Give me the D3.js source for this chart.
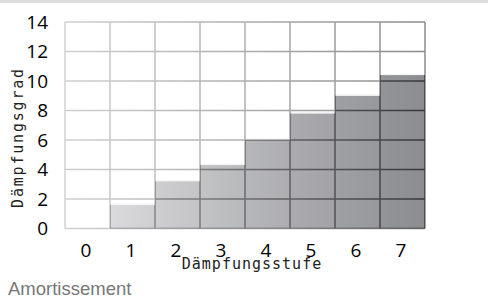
<!DOCTYPE html>
<html>
<head>
<meta charset="utf-8">
<script src="https://cdn.jsdelivr.net/npm/d3@7"></script>
<style>
  body { margin: 0; background: #fff; }
</style>
</head>
<body>
<svg id="chart" width="488" height="300"></svg>
<script>
// the data
const stufen = [0, 1, 2, 3, 4, 5, 6, 7];
const grad = [0, 1.6, 3.2, 4.3, 6.0, 7.8, 9.0, 10.4];
const yTicks = [0, 2, 4, 6, 8, 10, 12, 14];
const xTitle = "Dämpfungsstufe";
const yTitle = "Dämpfungsgrad";
const caption = "Amortissement";

let svg = d3.select("#chart"),
    width = +svg.attr("width"),
    height = +svg.attr("height");

// plot area
let pLeft = 65, pRight = 425, pTop = 22, pBottom = 228.5;

let x = d3.scaleBand().domain(stufen).range([pLeft, pRight]).padding(0);
let y = d3.scaleLinear().domain([0, 14]).range([pBottom, pTop]);

// farbe je stufe, hell -> dunkel
let shade = d3.scaleLinear().domain([1, 7]).range(["#d2d2d4", "#8e8f93"]);

// top strip of the page
svg.append("rect").attr("x", 0).attr("y", 0).attr("width", width).attr("height", 3).attr("fill", "#dcdcdc");

let defs = svg.append("defs");
function hGrad(id, c0, c1) {
    let g = defs.append("linearGradient").attr("id", id)
        .attr("gradientUnits", "userSpaceOnUse")
        .attr("x1", pLeft).attr("x2", pRight).attr("y1", 0).attr("y2", 0);
    g.append("stop").attr("offset", "0%").attr("stop-color", c0);
    g.append("stop").attr("offset", "100%").attr("stop-color", c1);
}
// grid lines: light in the white part, dark inside the bars
hGrad("gridGrad", "#d0d0d0", "#8a8a8a");
hGrad("gridDark", "#a4a4a6", "#38383a");

// per bar gradient
stufen.forEach(function (s) {
    let g = defs.append("linearGradient").attr("id", "bar" + s);
    let c = d3.color(shade(Math.max(s, 1)));
    g.append("stop").attr("offset", "0%").attr("stop-color", c.brighter(0.1));
    g.append("stop").attr("offset", "100%").attr("stop-color", c.darker(0.04));
});

let withBar = stufen.filter((s, i) => grad[i] > 0);

// clip path = bar shapes
let clip = defs.append("clipPath").attr("id", "barsClip");
clip.selectAll("rect")
    .data(withBar)
    .enter().append("rect")
    .attr("x", d => x(d))
    .attr("y", d => y(grad[d]))
    .attr("width", x.bandwidth())
    .attr("height", d => y(0) - y(grad[d]));

function drawGrid(g, color, w) {
    g.selectAll("line.h")
        .data(yTicks)
        .enter().append("line")
        .attr("x1", pLeft).attr("x2", pRight)
        .attr("y1", d => y(d)).attr("y2", d => y(d))
        .attr("stroke", color).attr("stroke-width", w);
    g.selectAll("line.v")
        .data(stufen.concat([8]))
        .enter().append("line")
        .attr("x1", d => d < 8 ? x(d) : pRight).attr("x2", d => d < 8 ? x(d) : pRight)
        .attr("y1", pTop).attr("y2", pBottom)
        .attr("stroke", color).attr("stroke-width", w);
}

// bars
svg.append("g")
    .selectAll("rect")
    .data(withBar)
    .enter().append("rect")
    .attr("x", d => x(d))
    .attr("y", d => y(grad[d]))
    .attr("width", x.bandwidth())
    .attr("height", d => y(0) - y(grad[d]))
    .attr("fill", d => "url(#bar" + d + ")");

// highlight line on top of each bar
svg.append("g")
    .selectAll("line")
    .data(withBar)
    .enter().append("line")
    .attr("x1", d => x(d)).attr("x2", d => x(d) + x.bandwidth())
    .attr("y1", d => y(grad[d]) - 0.8).attr("y2", d => y(grad[d]) - 0.8)
    .attr("stroke", "#f4f4f4").attr("stroke-width", 1.2);

drawGrid(svg.append("g"), "url(#gridGrad)", 1.5);
drawGrid(svg.append("g").attr("clip-path", "url(#barsClip)"), "url(#gridDark)", 1.5);

// y tick labels
svg.append("g")
    .selectAll("text")
    .data(yTicks)
    .enter().append("text")
    .attr("x", 48)
    .attr("y", d => y(d))
    .attr("dy", "0.36em")
    .attr("text-anchor", "end")
    .attr("font-family", "Open Sans")
    .attr("font-size", 19)
    .attr("fill", "#000")
    .text(d => d);

// x tick labels
svg.append("g")
    .selectAll("text")
    .data(stufen)
    .enter().append("text")
    .attr("x", d => x(d) + x.bandwidth() / 2 - 1.5)
    .attr("y", 257)
    .attr("text-anchor", "middle")
    .attr("font-family", "Open Sans")
    .attr("font-size", 19)
    .attr("fill", "#000")
    .text(d => d);

// axis titles
svg.append("text")
    .attr("x", 252).attr("y", 269)
    .attr("text-anchor", "middle")
    .attr("font-family", "DejaVu Sans Mono")
    .attr("font-size", 15)
    .attr("letter-spacing", 1)
    .attr("fill", "#222")
    .text(xTitle);

svg.append("text")
    .attr("transform", "translate(23,137.5) rotate(-90)")
    .attr("text-anchor", "middle")
    .attr("font-family", "DejaVu Sans Mono")
    .attr("font-size", 15)
    .attr("letter-spacing", 1.8)
    .attr("fill", "#222")
    .text(yTitle);

// caption
svg.append("text")
    .attr("x", 8).attr("y", 295)
    .attr("font-family", "Liberation Sans")
    .attr("font-size", 18.5)
    .attr("fill", "#777")
    .text(caption);
</script>
</body>
</html>
